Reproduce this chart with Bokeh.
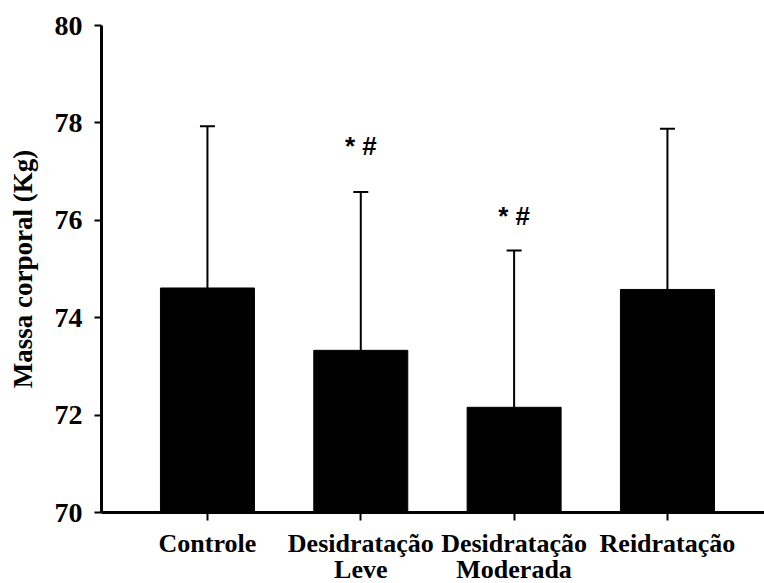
from bokeh.plotting import figure
from bokeh.models import Range1d, FixedTicker, Whisker, TeeHead, ColumnDataSource
from bokeh.embed import file_html
from bokeh.resources import INLINE
from bokeh.core.properties import value

# Body mass (kg) per condition: mean and standard deviation
categories = ["Controle", "Desidratação\nLeve", "Desidratação\nModerada", "Reidratação"]
means = [74.61, 73.33, 72.16, 74.58]
sds = [3.32, 3.25, 3.22, 3.30]
# significance marks above the error bars
marks = ["", "* #", "* #", ""]
y_ticks = [70, 72, 74, 76, 78, 80]

xs = list(range(len(categories)))
upper = [m + s for m, s in zip(means, sds)]
mark_offsets = [0, -46, -34, 0]

src = ColumnDataSource(dict(x=xs, mean=means, upper=upper, mark=marks, moff=mark_offsets))

p = figure(frame_width=663, frame_height=487, output_backend="svg", toolbar_location=None,
           x_range=Range1d(-0.691, 3.633), y_range=Range1d(70, 80),
           min_border_left=101, min_border_right=0, min_border_top=25,
           min_border_bottom=0)
p.outline_line_color = None
p.xgrid.visible = False
p.ygrid.visible = False
p.background_fill_color = "white"
p.border_fill_color = "white"

p.vbar(x="x", top="mean", bottom=70, width=0.613, source=src,
       fill_color="black", line_color="black")

err = Whisker(base="x", lower="mean", upper="upper", source=src,
              line_color="black", line_width=2,
              upper_head=TeeHead(size=15, line_width=2, line_color="black"),
              lower_head=None)
p.add_layout(err)

p.text(x="x", y="upper", text="mark", y_offset="moff", source=src,
       text_align="center", text_baseline="middle",
       text_font=value("Liberation Sans"), text_font_style="bold",
       text_font_size="26px", text_color="black")

serif = "Liberation Serif"

# y axis
p.yaxis.ticker = FixedTicker(ticks=y_ticks)
p.yaxis.minor_tick_line_color = None
p.yaxis.axis_line_width = 3
p.yaxis.major_tick_line_width = 2
p.yaxis.major_tick_in = 0
p.yaxis.major_tick_out = 7
p.yaxis.major_label_standoff = 12
p.yaxis.major_label_text_font = serif
p.yaxis.major_label_text_font_style = "bold"
p.yaxis.major_label_text_font_size = "28px"
p.yaxis.major_label_text_color = "black"
p.yaxis.axis_label = "Massa corporal (Kg)"
p.yaxis.axis_label_text_font = serif
p.yaxis.axis_label_text_font_style = "bold"
p.yaxis.axis_label_text_font_size = "27px"
p.yaxis.axis_label_text_color = "black"
p.yaxis.axis_label_standoff = 14

# x axis
p.xaxis.ticker = FixedTicker(ticks=xs)
p.xaxis.major_label_overrides = {i: c for i, c in zip(xs, categories)}
p.xaxis.minor_tick_line_color = None
p.xaxis.axis_line_width = 3
p.xaxis.major_tick_line_width = 2
p.xaxis.major_tick_in = 0
p.xaxis.major_tick_out = 8
p.xaxis.major_label_standoff = 8
p.xaxis.major_label_text_font = serif
p.xaxis.major_label_text_font_style = "bold"
p.xaxis.major_label_text_font_size = "26px"
p.xaxis.major_label_text_color = "black"
p.xaxis.major_label_text_line_height = 0.92

open("out.html", "w").write(file_html(p, INLINE))
